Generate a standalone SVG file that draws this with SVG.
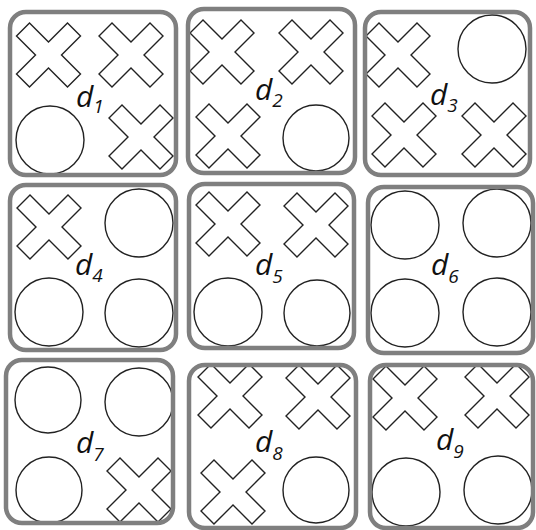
<svg xmlns="http://www.w3.org/2000/svg" xmlns:xlink="http://www.w3.org/1999/xlink" width="536" height="530" viewBox="0 0 536 530">
<defs>
<style>
.box{fill:none;stroke:#7f7f7f;stroke-width:4.5}
.sym{fill:#fff;stroke:#222;stroke-width:1.4}
.lbl{font-family:"Open Sans","Liberation Sans",sans-serif;font-style:italic;font-size:30px;fill:#111}
.sub{font-size:19px}
</style>
<polygon id="x" class="sym" points="0,-13 19,-32 32,-19 13,0 32,19 19,32 0,13 -19,32 -32,19 -13,0 -32,-19 -19,-32"/>
</defs>
<rect width="536" height="530" fill="#fff"/>
<g id="d1">
<use xlink:href="#x" x="48.5" y="55"/>
<use xlink:href="#x" x="131" y="55"/>
<circle class="sym" cx="50" cy="140" r="34"/>
<use xlink:href="#x" x="141" y="137"/>
<rect class="box" x="10" y="12" width="166" height="163" rx="16"/>
<text class="lbl" x="76" y="107">d<tspan class="sub" dy="6">1</tspan></text>
</g>
<g id="d2">
<use xlink:href="#x" x="222" y="52"/>
<use xlink:href="#x" x="311" y="52"/>
<use xlink:href="#x" x="228" y="136"/>
<circle class="sym" cx="316" cy="138" r="33"/>
<rect class="box" x="188" y="9" width="167" height="164" rx="16"/>
<text class="lbl" x="255" y="100">d<tspan class="sub" dy="7">2</tspan></text>
</g>
<g id="d3">
<use xlink:href="#x" x="398" y="55"/>
<circle class="sym" cx="492" cy="49" r="34"/>
<use xlink:href="#x" x="404" y="135"/>
<use xlink:href="#x" x="494" y="135"/>
<rect class="box" x="365" y="12" width="165" height="163" rx="16"/>
<text class="lbl" x="430" y="105">d<tspan class="sub" dy="7">3</tspan></text>
</g>
<g id="d4">
<use xlink:href="#x" x="49" y="227"/>
<circle class="sym" cx="139" cy="223" r="34"/>
<circle class="sym" cx="49" cy="312" r="34"/>
<circle class="sym" cx="139" cy="313" r="34"/>
<rect class="box" x="10" y="185" width="166" height="165" rx="16"/>
<text class="lbl" x="75" y="275">d<tspan class="sub" dy="7">4</tspan></text>
</g>
<g id="d5">
<use xlink:href="#x" x="228" y="224"/>
<use xlink:href="#x" x="316" y="225"/>
<circle class="sym" cx="228" cy="312" r="34"/>
<circle class="sym" cx="317" cy="313" r="33"/>
<rect class="box" x="189" y="184" width="165" height="164" rx="16"/>
<text class="lbl" x="255" y="275">d<tspan class="sub" dy="8">5</tspan></text>
</g>
<g id="d6">
<circle class="sym" cx="405" cy="225" r="34"/>
<circle class="sym" cx="497" cy="223" r="34"/>
<circle class="sym" cx="405" cy="313" r="34"/>
<circle class="sym" cx="497" cy="312" r="34"/>
<rect class="box" x="368" y="187" width="165" height="166" rx="16"/>
<text class="lbl" x="431" y="275">d<tspan class="sub" dy="8">6</tspan></text>
</g>
<g id="d7">
<circle class="sym" cx="48" cy="400" r="33"/>
<circle class="sym" cx="139" cy="402" r="34"/>
<circle class="sym" cx="49" cy="490" r="33"/>
<use xlink:href="#x" x="139" y="490"/>
<rect class="box" x="6" y="360" width="167" height="163" rx="16"/>
<text class="lbl" x="76" y="453">d<tspan class="sub" dy="8">7</tspan></text>
</g>
<g id="d8">
<use xlink:href="#x" x="230" y="396"/>
<use xlink:href="#x" x="318" y="397"/>
<use xlink:href="#x" x="233" y="492"/>
<circle class="sym" cx="316" cy="490" r="33"/>
<rect class="box" x="189" y="365" width="167" height="163" rx="16"/>
<text class="lbl" x="255" y="452">d<tspan class="sub" dy="8">8</tspan></text>
</g>
<g id="d9">
<use xlink:href="#x" x="405" y="398"/>
<use xlink:href="#x" x="497" y="396"/>
<circle class="sym" cx="406" cy="492" r="34"/>
<circle class="sym" cx="498" cy="490" r="34"/>
<rect class="box" x="370" y="365" width="163" height="163" rx="16"/>
<text class="lbl" x="436" y="450">d<tspan class="sub" dy="8">9</tspan></text>
</g>
<g id="connectors"/>
</svg>
